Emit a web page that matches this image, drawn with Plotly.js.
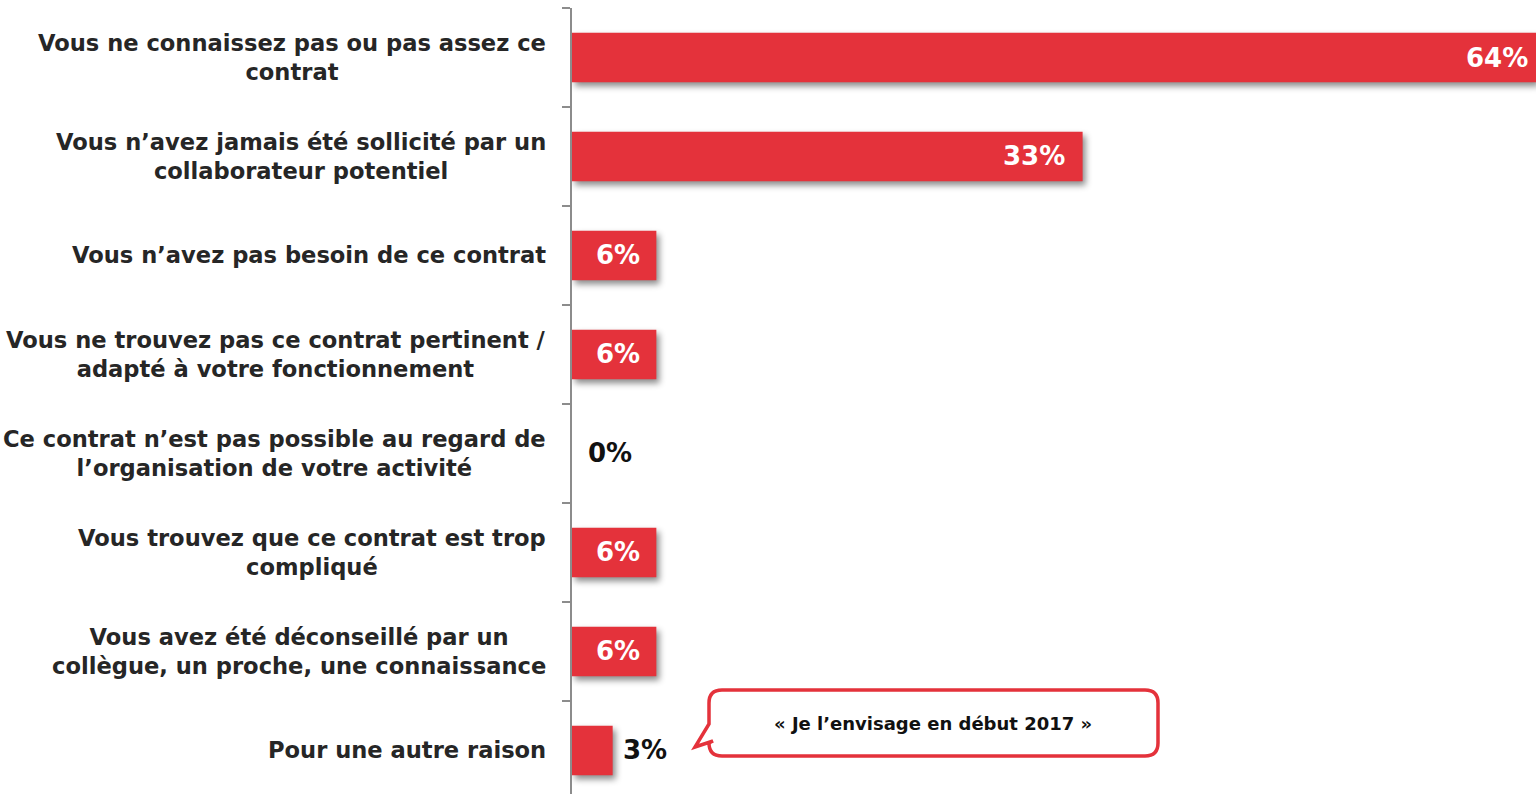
<!DOCTYPE html>
<html>
<head>
<meta charset="utf-8">
<script src="https://cdn.plot.ly/plotly-3.0.1.min.js"></script>
<style>
  html, body { margin: 0; padding: 0; background: #fff; }
  #chart { width: 1536px; height: 794px; }
  .barlayer .point path { filter: drop-shadow(3px 4px 3px rgba(0,0,0,0.45)); }
</style>
</head>
<body>
<div id="chart"></div>
<script>
// ---- data ----
const categories = [
  "Vous ne connaissez pas ou pas assez ce<br>contrat",
  "Vous n’avez jamais été sollicité par un<br>collaborateur potentiel",
  "Vous n’avez pas besoin de ce contrat",
  "Vous ne trouvez pas ce contrat pertinent /<br>adapté à votre fonctionnement",
  "Ce contrat n’est pas possible au regard de<br>l’organisation de votre activité",
  "Vous trouvez que ce contrat est trop<br>compliqué",
  "Vous avez été déconseillé par un<br>collègue, un proche, une connaissance",
  "Pour une autre raison"
];
const values = [64, 33.9, 5.6, 5.6, 0, 5.6, 5.6, 2.7];
const valueLabels = ["64%", "33%", "6%", "6%", "0%", "6%", "6%", "3%"];
const calloutText = "« Je l’envisage en début 2017 »";

// ---- styles ----
const RED = "#E4323B";
const FONT = "'DejaVu Sans', sans-serif";
const W = 1536, H = 794;
const M = { l: 572, r: 0, t: 8, b: 0 };
const PW = W - M.l - M.r, PH = H - M.t - M.b;
const px = x => (x - M.l) / PW;
const py = y => (H - M.b - y) / PH;

const trace = {
  type: "bar",
  orientation: "h",
  x: values,
  y: categories,
  marker: { color: RED, line: { width: 0 } },
  width: 0.5,
  hoverinfo: "skip",
  textposition: "none"
};

const annotations = [];
// category labels (centered lines, right-aligned block)
categories.forEach(c => {
  annotations.push({
    xref: "paper", yref: "y", x: 0, y: c,
    xanchor: "right", yanchor: "middle", xshift: -24,
    align: "center", showarrow: false,
    text: c.split("<br>").map(s => "<b>" + s + "</b>").join("<br>"),
    font: { family: FONT, size: 22.6, color: "#262626" }
  });
});
// value labels
values.forEach((v, i) => {
  let a = { xref: "x", yref: "y", y: categories[i], showarrow: false,
            text: "<b>" + valueLabels[i] + "</b>", yanchor: "middle",
            font: { family: FONT, size: 26, color: "#ffffff" } };
  if (v >= 20) { a.x = v; a.xanchor = "right"; a.xshift = v > 50 ? -6 : -16; }
  else if (v >= 5) { a.x = v / 2; a.xanchor = "center"; a.xshift = 4; }
  else { a.x = v; a.xanchor = "left"; a.xshift = v > 0 ? 8 : 14; a.font.color = "#111111"; }
  annotations.push(a);
});
// callout text
annotations.push({
  xref: "paper", yref: "paper", x: px(933), y: py(723),
  xanchor: "center", yanchor: "middle", showarrow: false,
  text: "<b>" + calloutText + "</b>",
  font: { family: FONT, size: 18, color: "#111111" }
});

// callout bubble path (pixel coords -> paper)
const r = 13;
const L = 709, R = 1158, T = 690, B = 756;
const pts = [
  ["M", L + r, T], ["L", R - r, T], ["Q", R, T, R, T + r], ["L", R, B - r],
  ["Q", R, B, R - r, B], ["L", L + r, B], ["Q", L, B, L, B - r],
  ["L", L + 4, 741], ["L", 695, 747], ["L", L, 724],
  ["L", L, T + r], ["Q", L, T, L + r, T]
];
const path = pts.map(p => {
  const cmd = p[0]; const c = p.slice(1);
  const out = [];
  for (let k = 0; k < c.length; k += 2) out.push(px(c[k]).toFixed(5) + "," + py(c[k + 1]).toFixed(5));
  return cmd + out.join(" ");
}).join(" ") + " Z";

const layout = {
  width: W, height: H,
  margin: M,
  paper_bgcolor: "#fff", plot_bgcolor: "#fff",
  showlegend: false,
  bargap: 0.5,
  xaxis: { range: [0, 64], visible: false, fixedrange: true },
  yaxis: {
    type: "category",
    range: [7.44, -0.5],
    showticklabels: false,
    showgrid: false, zeroline: false,
    showline: true, linecolor: "#8c8c8c", linewidth: 2,
    ticks: "outside", tickson: "boundaries", ticklen: 8, tickwidth: 2, tickcolor: "#8c8c8c"
  },
  annotations: annotations,
  shapes: [{
    type: "path", xref: "paper", yref: "paper", path: path,
    line: { color: RED, width: 3.5 }, fillcolor: "#ffffff", layer: "above"
  }]
};

Plotly.newPlot("chart", [trace], layout, { displayModeBar: false, staticPlot: true });
</script>
</body>
</html>
